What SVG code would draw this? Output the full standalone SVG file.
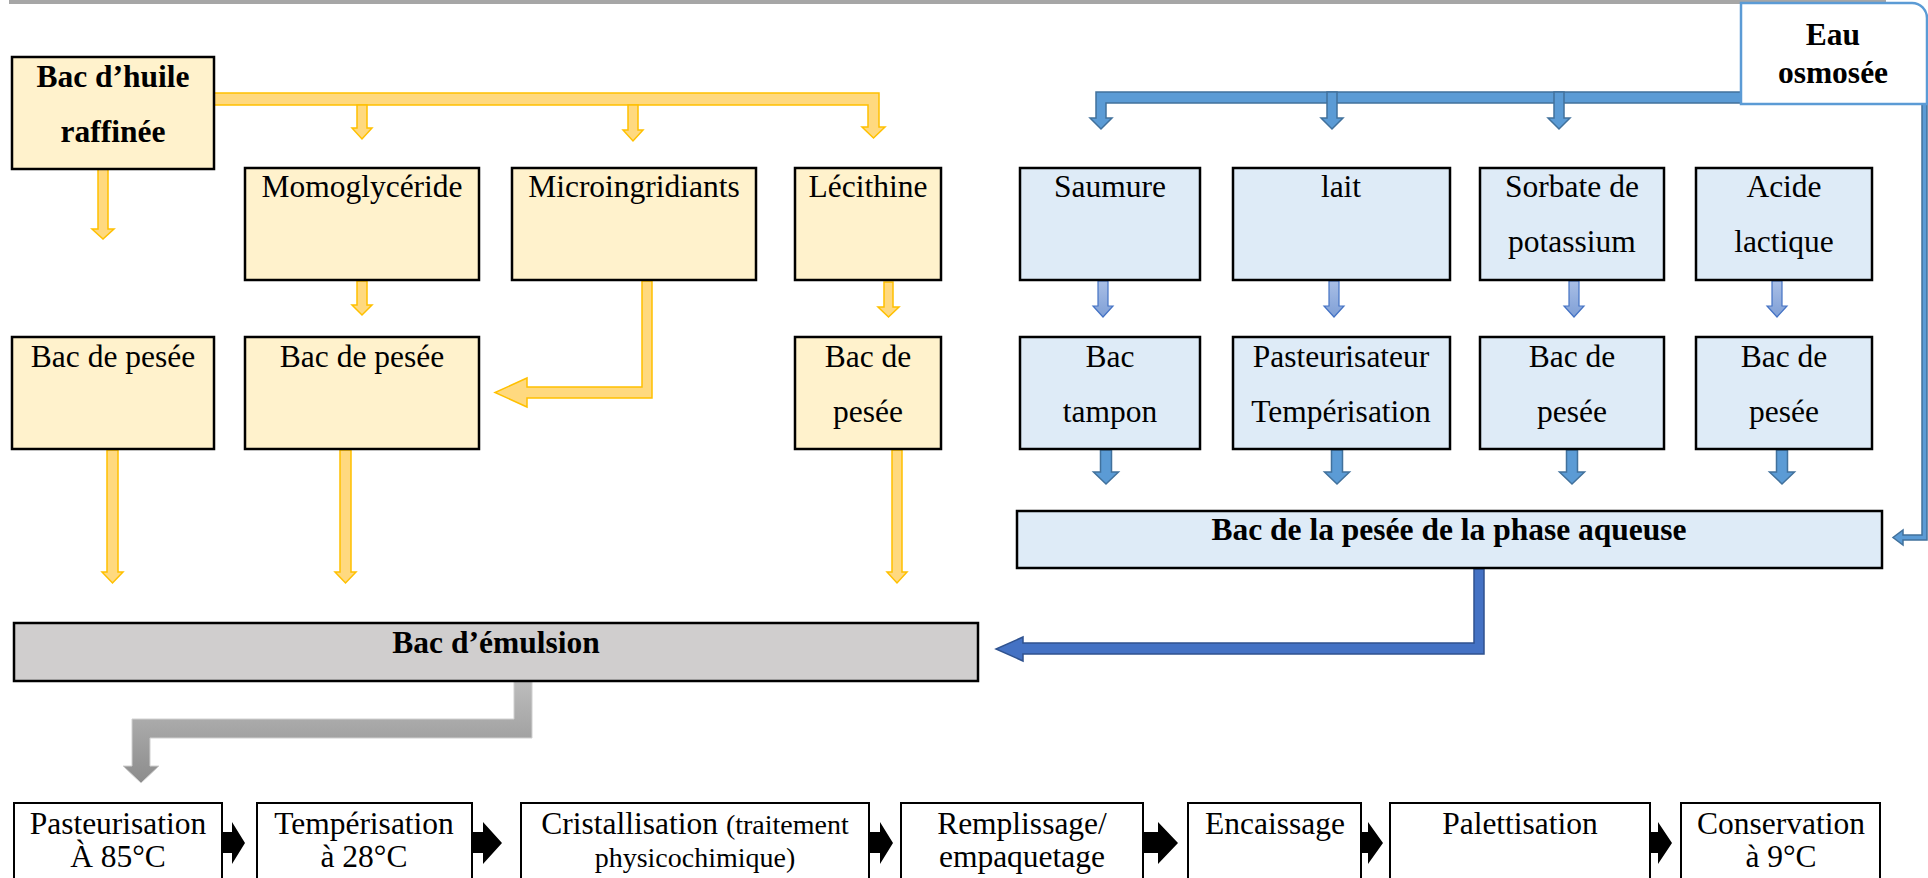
<svg xmlns="http://www.w3.org/2000/svg" width="1928" height="878" viewBox="0 0 1928 878">
<defs>
<style>
text{font-family:"Liberation Serif","Times New Roman",serif;font-size:31.5px;fill:#000;text-anchor:middle}
.b{font-weight:bold}
.sm{font-size:28px}
.ybox{fill:#fff2cc;stroke:#000;stroke-width:2.5}
.bbox{fill:#deebf7;stroke:#000;stroke-width:2.5}
.wbox{fill:#fff;stroke:#000;stroke-width:2}
.ya{fill:#ffd97f;stroke:#ffc000;stroke-width:1.5}
.la{fill:url(#lb);stroke:#4472c4;stroke-width:1.2}
.ba{fill:#5b9bd5;stroke:#41719c;stroke-width:1.5}
.da{fill:#4472c4;stroke:#2f528f;stroke-width:1.5}
.ka{fill:#000}
</style>
<linearGradient id="lb" x1="0" y1="0" x2="0" y2="1">
<stop offset="0" stop-color="#a9bfe6"/><stop offset="1" stop-color="#7f9fd6"/>
</linearGradient>
<linearGradient id="gr" x1="0" y1="0" x2="0" y2="1">
<stop offset="0" stop-color="#bdbdbd"/><stop offset="1" stop-color="#8c8c8c"/>
</linearGradient>
</defs>
<rect x="9" y="0" width="1877" height="4" fill="#a6a6a6"/>

<g id="connectors">
<path class="ya" d="M214,93 H879 V127 H885 L873.5,138 L862,127 H868 V105 H214 Z"/>
<path class="ya" d="M357,105 V128 H352 L362,139 L372,128 H367 V105 Z"/>
<path class="ya" d="M628,105 V130 H623 L633,141 L643,130 H638 V105 Z"/>
<path class="ya" d="M98,169 V229 H92 L103,239 L114,229 H108 V169 Z"/>
<path class="ya" d="M357,281 V305 H352 L362,315 L372,305 H367 V281 Z"/>
<path class="ya" d="M642,281 H652 V398 H527 V407 L495,392.5 L527,378 V387 H642 Z"/>
<path class="ya" d="M884,282 V307 H878 L888.5,317 L899,307 H893 V282 Z"/>
<path class="ya" d="M107,450 V572 H102 L112.5,583 L123,572 H118 V450 Z"/>
<path class="ya" d="M340,450 V572 H335 L345.5,583 L356,572 H351 V450 Z"/>
<path class="ya" d="M892,450 V572 H887 L897,583 L907,572 H902 V450 Z"/>

<path d="M514,681 H532 V738 H150 V766 H159 L141,783 L123,766 H132 V719 H514 Z" fill="url(#gr)" stroke="#d0d0d0" stroke-width="1"/>

<path class="ba" d="M1741,92 H1096 V118 H1090 L1101,129 L1112,118 H1106 V103 H1741 Z"/>
<path class="ba" d="M1327,92 V118 H1321 L1332,129 L1343,118 H1337 V92 Z"/>
<path class="ba" d="M1554,92 V118 H1548 L1559,129 L1570,118 H1564 V92 Z"/>

<path class="la" d="M1098,281 V306 H1093 L1103,317 L1113,306 H1108 V281 Z"/>
<path class="la" d="M1329,281 V306 H1324 L1334,317 L1344,306 H1339 V281 Z"/>
<path class="la" d="M1569,281 V306 H1564 L1574,317 L1584,306 H1579 V281 Z"/>
<path class="la" d="M1772,281 V306 H1767 L1777,317 L1787,306 H1782 V281 Z"/>

<path class="ba" d="M1100.5,450 V472 H1093.5 L1106,484 L1118.5,472 H1111.5 V450 Z"/>
<path class="ba" d="M1331.5,450 V472 H1324.5 L1337,484 L1349.5,472 H1342.5 V450 Z"/>
<path class="ba" d="M1566.5,450 V472 H1559.5 L1572,484 L1584.5,472 H1577.5 V450 Z"/>
<path class="ba" d="M1776.5,450 V472 H1769.5 L1782,484 L1794.5,472 H1787.5 V450 Z"/>

<path class="ba" d="M1922,104 H1927 V540 H1903 V545 L1893,537.5 L1903,530 V535 H1922 Z" stroke-width="1"/>

<path class="da" d="M1474,569 H1484 V654 H1023 V661 L996,649 L1023,637 V643 H1474 Z"/>

<path class="ka" d="M221,832 H232 V822 L245,843 L232,864 V853 H221 Z"/>
<path class="ka" d="M470,832 H483 V822 L502,843 L483,864 V853 H470 Z"/>
<path class="ka" d="M869,832 H880 V822 L893,843 L880,864 V853 H869 Z"/>
<path class="ka" d="M1141,832 H1158 V822 L1178,843 L1158,864 V853 H1141 Z"/>
<path class="ka" d="M1358,832 H1368 V822 L1383,843 L1368,864 V853 H1358 Z"/>
<path class="ka" d="M1648,832 H1658 V822 L1672,843 L1658,864 V853 H1648 Z"/>
</g>

<g id="huile"><rect class="ybox" x="12" y="57" width="202" height="112"/><text class="b" x="113" y="87">Bac d’huile</text><text class="b" x="113" y="142">raffinée</text></g>
<g id="momo"><rect class="ybox" x="245" y="168" width="234" height="112"/><text x="362" y="197">Momoglycéride</text></g>
<g id="micro"><rect class="ybox" x="512" y="168" width="244" height="112"/><text x="634" y="197">Microingridiants</text></g>
<g id="leci"><rect class="ybox" x="795" y="168" width="146" height="112"/><text x="868" y="197">Lécithine</text></g>
<g id="pesee1"><rect class="ybox" x="12" y="337" width="202" height="112"/><text x="113" y="367">Bac de pesée</text></g>
<g id="pesee2"><rect class="ybox" x="245" y="337" width="234" height="112"/><text x="362" y="367">Bac de pesée</text></g>
<g id="pesee3"><rect class="ybox" x="795" y="337" width="146" height="112"/><text x="868" y="367">Bac de</text><text x="868" y="422">pesée</text></g>

<g id="eau"><path d="M1741,3 H1912 A15,15 0 0 1 1927,18 V104 H1741 Z" fill="#fff" stroke="#5b9bd5" stroke-width="2.5"/><text class="b" x="1833" y="45">Eau</text><text class="b" x="1833" y="83">osmosée</text></g>

<g id="saumure"><rect class="bbox" x="1020" y="168" width="180" height="112"/><text x="1110" y="197">Saumure</text></g>
<g id="lait"><rect class="bbox" x="1233" y="168" width="217" height="112"/><text x="1341" y="197">lait</text></g>
<g id="sorbate"><rect class="bbox" x="1480" y="168" width="184" height="112"/><text x="1572" y="197">Sorbate de</text><text x="1572" y="252">potassium</text></g>
<g id="acide"><rect class="bbox" x="1696" y="168" width="176" height="112"/><text x="1784" y="197">Acide</text><text x="1784" y="252">lactique</text></g>
<g id="tampon"><rect class="bbox" x="1020" y="337" width="180" height="112"/><text x="1110" y="367">Bac</text><text x="1110" y="422">tampon</text></g>
<g id="pasteurisateur"><rect class="bbox" x="1233" y="337" width="217" height="112"/><text x="1341" y="367">Pasteurisateur</text><text x="1341" y="422">Tempérisation</text></g>
<g id="pesee4"><rect class="bbox" x="1480" y="337" width="184" height="112"/><text x="1572" y="367">Bac de</text><text x="1572" y="422">pesée</text></g>
<g id="pesee5"><rect class="bbox" x="1696" y="337" width="176" height="112"/><text x="1784" y="367">Bac de</text><text x="1784" y="422">pesée</text></g>

<g id="aqueuse"><rect class="bbox" x="1017" y="511" width="865" height="57"/><text class="b" x="1449" y="540">Bac de la pesée de la phase aqueuse</text></g>
<g id="emulsion"><rect x="14" y="623" width="964" height="58" fill="#d0cece" stroke="#000" stroke-width="2.5"/><text class="b" x="496" y="653">Bac d’émulsion</text></g>

<g id="s1"><rect class="wbox" x="14" y="803" width="208" height="100"/><text x="118" y="834">Pasteurisation</text><text x="118" y="867">À 85°C</text></g>
<g id="s2"><rect class="wbox" x="257" y="803" width="215" height="100"/><text x="364" y="834">Tempérisation</text><text x="364" y="867">à 28°C</text></g>
<g id="s3"><rect class="wbox" x="521" y="803" width="348" height="100"/><text x="695" y="834">Cristallisation <tspan class="sm">(traitement</tspan></text><text class="sm" x="695" y="867">physicochimique)</text></g>
<g id="s4"><rect class="wbox" x="901" y="803" width="242" height="100"/><text x="1022" y="834">Remplissage/</text><text x="1022" y="867">empaquetage</text></g>
<g id="s5"><rect class="wbox" x="1188" y="803" width="173" height="100"/><text x="1275" y="834">Encaissage</text></g>
<g id="s6"><rect class="wbox" x="1390" y="803" width="260" height="100"/><text x="1520" y="834">Palettisation</text></g>
<g id="s7"><rect class="wbox" x="1681" y="803" width="199" height="100"/><text x="1781" y="834">Conservation</text><text x="1781" y="867">à 9°C</text></g>
</svg>
